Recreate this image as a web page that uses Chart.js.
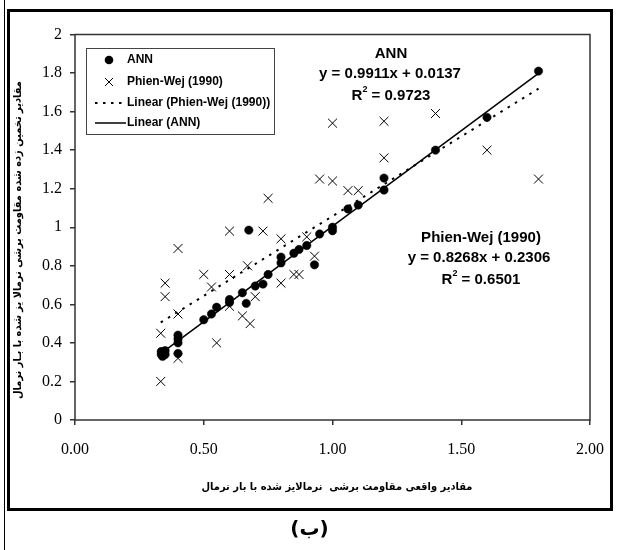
<!DOCTYPE html>
<html>
<head>
<meta charset="utf-8">
<script src="https://cdn.jsdelivr.net/npm/chart.js@4.4.1/dist/chart.umd.min.js"></script>
<style>
  body { margin: 0; background: #fff; width: 619px; height: 550px; position: relative; overflow: hidden; }
  #leftLine { position: absolute; left: 4px; top: 0; width: 1px; height: 550px; background: #000; }
  #frame { position: absolute; left: 7px; top: 9px; width: 600px; height: 496px; border: 3px solid #000; }
  #chartWrap { position: absolute; left: 0; top: 0; width: 619px; height: 550px; }
  #caption { position: absolute; left: 0; width: 619px; top: 516px; text-align: center;
             font: bold 20px "DejaVu Sans", sans-serif; color: #000; }
</style>
</head>
<body>
<div id="leftLine"></div>
<div id="frame"></div>
<div id="chartWrap"><canvas id="chart" width="619" height="550"></canvas></div>
<div id="caption" dir="rtl">(ب)</div>

<script>
// ANN predictions (filled circles)
const annX = [1.8, 1.6, 1.4, 1.2, 1.2, 1.1, 1.06, 1.0, 1.0, 0.95, 0.9, 0.87, 0.85, 0.8, 0.8, 0.93,
              0.75, 0.73, 0.7, 0.65, 0.665, 0.675, 0.6, 0.6, 0.55, 0.53, 0.5,
              0.4, 0.4, 0.4, 0.4, 0.35, 0.335, 0.335, 0.35, 0.34];
const annY = [1.81, 1.57, 1.40, 1.255, 1.193, 1.115, 1.095, 1.0, 0.982, 0.965, 0.905, 0.885, 0.865, 0.845, 0.815, 0.805,
              0.755, 0.705, 0.695, 0.66, 0.605, 0.985, 0.625, 0.61, 0.585, 0.55, 0.52,
              0.44, 0.42, 0.40, 0.345, 0.36, 0.355, 0.34, 0.34, 0.33];

// Phien-Wej (1990) predictions (crosses)
const pwX = [1.8, 1.6, 1.4, 1.2, 1.2, 1.0, 1.0, 0.95, 1.06, 1.1, 0.75, 0.6, 0.73, 0.8, 0.9, 0.93,
             0.85, 0.87, 0.8, 0.67, 0.6, 0.5, 0.53, 0.7, 0.6, 0.65, 0.68, 0.55,
             0.4, 0.35, 0.35, 0.4, 0.333, 0.4, 0.333];
const pwY = [1.25, 1.40, 1.59, 1.55, 1.36, 1.54, 1.24, 1.25, 1.19, 1.19, 1.15, 0.98, 0.98, 0.94, 0.95, 0.85,
             0.755, 0.755, 0.71, 0.80, 0.755, 0.755, 0.69, 0.64, 0.59, 0.54, 0.50, 0.40,
             0.89, 0.71, 0.64, 0.55, 0.45, 0.32, 0.20];

// trend line end points
const trendX = [0.333, 1.8];
const annTrendY = [0.344, 1.798];
const pwTrendY = [0.506, 1.719];

const xTicks = [0, 0.5, 1, 1.5, 2];
const yTicks = [0, 0.2, 0.4, 0.6, 0.8, 1, 1.2, 1.4, 1.6, 1.8, 2];

const annEq = ["ANN", "y = 0.9911x + 0.0137", "0.9723"];
const pwEq = ["Phien-Wej (1990)", "y = 0.8268x + 0.2306", "0.6501"];

const xTitle = "مقادیر واقعی مقاومت برشی  نرمالایز شده با بار نرمال";
const yTitle = "مقادیر تخمین زده شده مقاومت برشی نرمالا یز شده با بـار نرمال";
const titleFont = "bold 11px 'DejaVu Sans Condensed', 'DejaVu Sans', sans-serif";

const pts = (xs, ys) => xs.map((x, i) => ({ x, y: ys[i] }));

function drawR2(ctx, cx, cy, val) {
  ctx.font = "bold 15px 'Liberation Sans', Arial, sans-serif";
  const wR = ctx.measureText("R").width;
  const rest = " = " + val;
  const wRest = ctx.measureText(rest).width;
  ctx.font = "bold 9px 'Liberation Sans', Arial, sans-serif";
  const w2 = ctx.measureText("2").width;
  let x = cx - (wR + w2 + wRest) / 2;
  ctx.textAlign = "left";
  ctx.font = "bold 15px 'Liberation Sans', Arial, sans-serif";
  ctx.fillText("R", x, cy);
  ctx.font = "bold 9px 'Liberation Sans', Arial, sans-serif";
  ctx.fillText("2", x + wR, cy - 6);
  ctx.font = "bold 15px 'Liberation Sans', Arial, sans-serif";
  ctx.fillText(rest, x + wR + w2, cy);
}

const overlay = {
  id: "overlay",
  afterDatasetsDraw(chart) {
    const { ctx, chartArea: a } = chart;
    ctx.save();
    // plot frame
    ctx.strokeStyle = "#333";
    ctx.lineWidth = 1.5;
    ctx.strokeRect(a.left, a.top, a.right - a.left, a.bottom - a.top);

    // legend box
    const lx = 86.5, ly = 48.5, lw = 188, lh = 86;
    ctx.fillStyle = "#fff";
    ctx.fillRect(lx, ly, lw, lh);
    ctx.strokeStyle = "#444";
    ctx.lineWidth = 1;
    ctx.strokeRect(lx, ly, lw, lh);
    const rows = [60, 82, 103, 123];
    const ds = chart.data.datasets;
    ctx.fillStyle = "#000";
    ctx.strokeStyle = "#000";
    ctx.beginPath();
    ctx.arc(109, rows[0], 4.3, 0, Math.PI * 2);
    ctx.fill();
    ctx.lineWidth = 1;
    ctx.beginPath();
    ctx.moveTo(105, rows[1] - 4); ctx.lineTo(113, rows[1] + 4);
    ctx.moveTo(113, rows[1] - 4); ctx.lineTo(105, rows[1] + 4);
    ctx.stroke();
    ctx.lineWidth = 2;
    ctx.setLineDash([2.5, 5.5]);
    ctx.beginPath(); ctx.moveTo(95, rows[2]); ctx.lineTo(126, rows[2]); ctx.stroke();
    ctx.setLineDash([]);
    ctx.lineWidth = 1.5;
    ctx.beginPath(); ctx.moveTo(95, rows[3]); ctx.lineTo(126, rows[3]); ctx.stroke();
    ctx.font = "bold 12px 'Liberation Sans', Arial, sans-serif";
    ctx.textBaseline = "middle";
    ctx.textAlign = "left";
    [ds[0].label, ds[1].label, ds[3].label, ds[2].label].forEach((t, i) => ctx.fillText(t, 127, rows[i]));

    // equation labels
    ctx.textAlign = "center";
    ctx.font = "bold 15px 'Liberation Sans', Arial, sans-serif";
    ctx.fillText(annEq[0], 391, 54);
    ctx.fillText(annEq[1], 390, 74);
    drawR2(ctx, 391, 96, annEq[2]);
    ctx.textAlign = "center";
    ctx.fillText(pwEq[0], 481, 238);
    ctx.fillText(pwEq[1], 479, 258);
    drawR2(ctx, 481, 280, pwEq[2]);

    // axis titles
    ctx.font = titleFont;
    ctx.direction = "rtl";
    ctx.textAlign = "center";
    ctx.fillText(xTitle, 337, 487);
    ctx.translate(18, 240);
    ctx.rotate(-Math.PI / 2);
    ctx.fillText(yTitle, 0, 0);
    ctx.restore();
  }
};

new Chart(document.getElementById("chart"), {
  type: "scatter",
  data: {
    datasets: [
      {
        label: "ANN",
        data: pts(annX, annY),
        pointStyle: "circle",
        pointRadius: 4.2,
        backgroundColor: "#000",
        borderColor: "#000",
        borderWidth: 0.5,
        order: 1
      },
      {
        label: "Phien-Wej (1990)",
        data: pts(pwX, pwY),
        pointStyle: "crossRot",
        pointRadius: 6.3,
        borderColor: "#000",
        borderWidth: 1,
        order: 2
      },
      {
        label: "Linear (ANN)",
        type: "line",
        data: pts(trendX, annTrendY),
        borderColor: "#000",
        borderWidth: 1.5,
        pointRadius: 0,
        fill: false,
        order: 3
      },
      {
        label: "Linear (Phien-Wej (1990))",
        type: "line",
        data: pts(trendX, pwTrendY),
        borderColor: "#000",
        borderWidth: 2,
        borderDash: [2.5, 6],
        pointRadius: 0,
        fill: false,
        order: 4
      }
    ]
  },
  options: {
    responsive: false,
    animation: false,
    events: [],
    layout: { padding: { left: 0, right: 26, top: 34.5, bottom: 50 } },
    plugins: { legend: { display: false }, tooltip: { enabled: false } },
    scales: {
      x: {
        type: "linear",
        min: 0,
        max: 2,
        afterFit: s => { s.height = 80; },
        afterBuildTicks: s => { s.ticks = xTicks.map(v => ({ value: v })); },
        border: { display: false },
        grid: { display: true, drawOnChartArea: false, drawTicks: true, tickLength: 5, color: "#333", lineWidth: 1.5 },
        ticks: {
          padding: 15,
          color: "#000",
          font: { family: "'Liberation Serif', 'Times New Roman', serif", size: 16 },
          callback: v => Number(v).toFixed(2)
        },
        title: { display: false, text: xTitle }
      },
      y: {
        type: "linear",
        min: 0,
        max: 2,
        afterFit: s => { s.width = 75; },
        afterBuildTicks: s => { s.ticks = yTicks.map(v => ({ value: v })); },
        border: { display: false },
        grid: { display: true, drawOnChartArea: false, drawTicks: true, tickLength: 5, color: "#333", lineWidth: 1.5 },
        ticks: {
          padding: 8,
          color: "#000",
          font: { family: "'Liberation Serif', 'Times New Roman', serif", size: 16 },
          callback: v => String(Number(Number(v).toFixed(1)))
        },
        title: { display: false, text: yTitle }
      }
    }
  },
  plugins: [overlay]
});
</script>
</body>
</html>
